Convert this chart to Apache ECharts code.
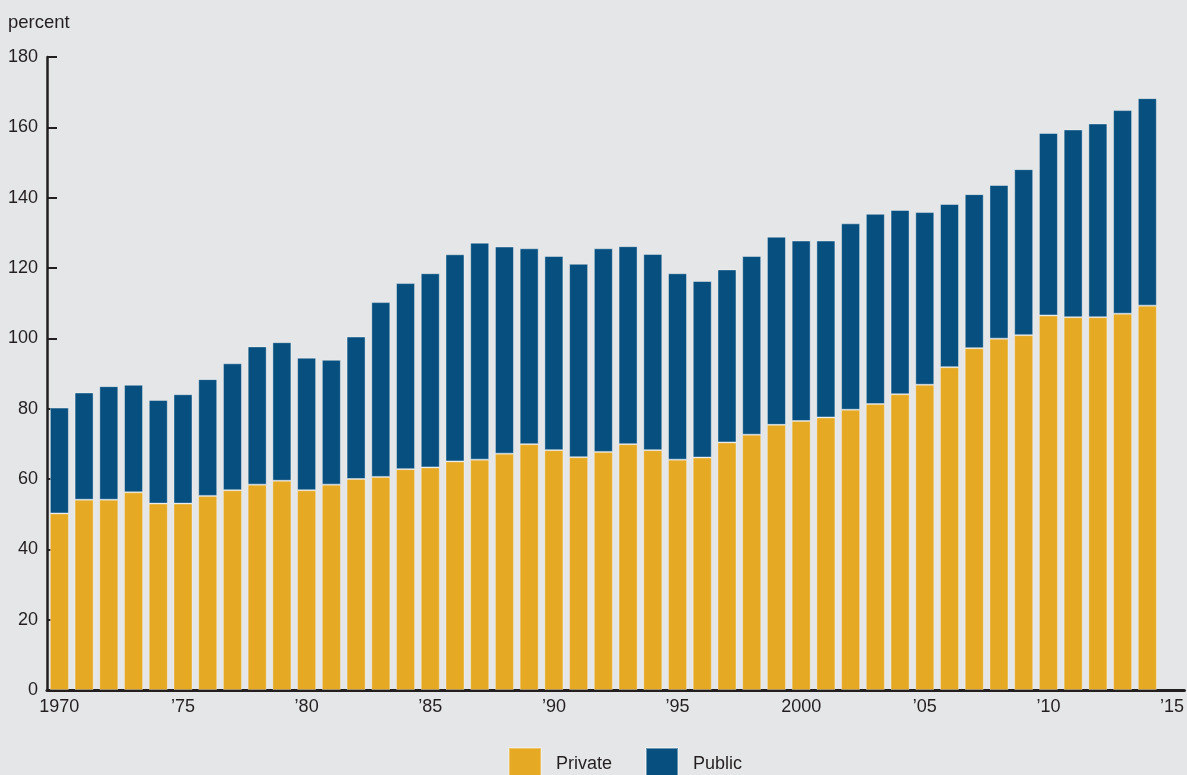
<!DOCTYPE html>
<html>
<head>
<meta charset="utf-8">
<script src="https://cdn.jsdelivr.net/npm/echarts@6/dist/echarts.min.js"></script>
<style>
  html, body { margin: 0; padding: 0; background: #E5E6E8; }
  #chart { width: 1187px; height: 775px; }
</style>
</head>
<body>
<div id="chart"></div>
<script>
const years = [];
for (let y = 1970; y <= 2015; y++) years.push(String(y));

const privateVals = [
  50.2, 54.1, 54.1, 56.2, 53.0, 53.0, 55.2, 56.8, 58.4, 59.5,
  56.8, 58.4, 60.0, 60.6, 62.8, 63.3, 65.0, 65.5, 67.2, 69.9,
  68.2, 66.2, 67.7, 69.9, 68.2, 65.5, 66.1, 70.4, 72.6, 75.4,
  76.5, 77.5, 79.7, 81.3, 84.1, 86.8, 91.8, 97.2, 99.9, 100.9,
  106.5, 106.0, 106.0, 107.0, 109.3
];
const publicVals = [
  30.1, 30.5, 32.3, 30.6, 29.5, 31.1, 33.2, 36.1, 39.3, 39.4,
  37.7, 35.5, 40.5, 49.7, 52.9, 55.2, 58.9, 61.7, 58.9, 55.7,
  55.2, 55.0, 57.9, 56.3, 55.8, 53.0, 50.2, 49.2, 50.8, 53.5,
  51.3, 50.3, 53.0, 54.1, 52.4, 49.1, 46.4, 43.8, 43.7, 47.2,
  51.9, 53.4, 55.1, 57.9, 59.0
];
const xTickLabels = ['1970', '\u201975', '\u201980', '\u201985', '\u201990', '\u201995', '2000', '\u201905', '\u201910', '\u201915'];
const yTicks = [0, 20, 40, 60, 80, 100, 120, 140, 160, 180];

const ink = '#231F20';
const font = 'Liberation Sans, Arial, Helvetica, sans-serif';

const chart = echarts.init(document.getElementById('chart'));
chart.setOption({
  backgroundColor: '#E5E6E8',
  animation: false,
  title: {
    text: 'percent',
    left: 8, top: 13, padding: 0,
    textStyle: { fontFamily: font, fontSize: 18.5, fontWeight: 'normal', color: ink }
  },
  legend: {
    left: 508, top: 747, padding: 0,
    itemWidth: 32, itemHeight: 32, itemGap: 33,
    icon: 'rect',
    textStyle: { fontFamily: font, fontSize: 18, color: ink, padding: [0, 0, 0, 10] },
    data: ['Private', 'Public']
  },
  grid: { left: 47, top: 57, width: 1143, bottom: 85, containLabel: false },
  xAxis: {
    type: 'category',
    data: years,
    boundaryGap: true,
    axisLine: { lineStyle: { color: ink, width: 3 } },
    axisTick: { show: false },
    axisLabel: {
      interval: function (i) { return i % 5 === 0; },
      formatter: function (v, i) { return xTickLabels[i / 5]; },
      margin: 8,
      fontFamily: font, fontSize: 18, color: ink
    }
  },
  yAxis: {
    type: 'value',
    min: yTicks[0], max: yTicks[yTicks.length - 1], interval: 20,
    axisLine: { show: true, lineStyle: { color: ink, width: 2.5 } },
    axisTick: { show: true, inside: true, length: 10, lineStyle: { color: ink, width: 2 } },
    splitLine: { show: false },
    axisLabel: { margin: 9, fontFamily: font, fontSize: 18, color: ink }
  },
  series: [
    {
      name: 'Private', type: 'bar', stack: 'total', barWidth: 19,
      data: privateVals,
      itemStyle: { color: '#E5A923', borderColor: 'rgba(255,255,255,0.3)', borderWidth: 1 }
    },
    {
      name: 'Public', type: 'bar', stack: 'total', barWidth: 19,
      data: publicVals,
      itemStyle: { color: '#064F7E', borderColor: 'rgba(255,255,255,0.4)', borderWidth: 1 }
    }
  ]
});
</script>
</body>
</html>
